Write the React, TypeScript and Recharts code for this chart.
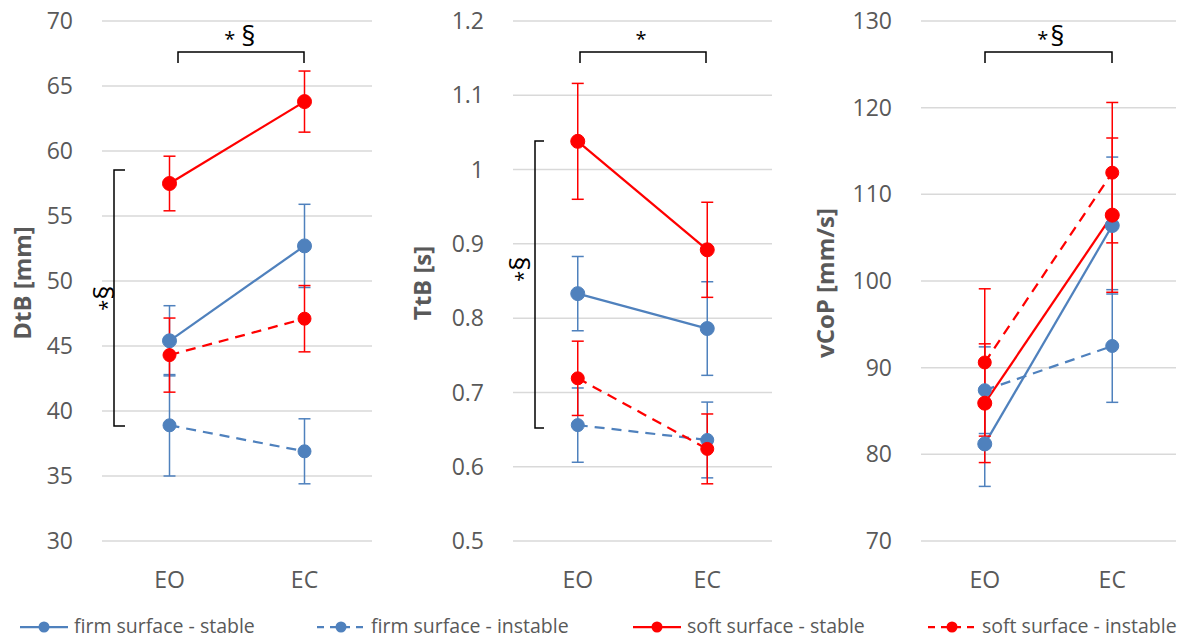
import React from 'react';
import { LineChart, Line, XAxis, YAxis, CartesianGrid, ErrorBar } from 'recharts';

const CATEGORIES = ['EO', 'EC'];

const SERIES_NAMES = [
  'firm surface - stable',
  'firm surface - instable',
  'soft surface - stable',
  'soft surface - instable'
];

// DtB [mm] - means and SD per condition
const DTB_FIRM_STABLE = [45.4, 52.7];
const DTB_FIRM_STABLE_SD = [2.7, 3.2];
const DTB_FIRM_INSTABLE = [38.9, 36.9];
const DTB_FIRM_INSTABLE_SD = [3.9, 2.5];
const DTB_SOFT_STABLE = [57.5, 63.8];
const DTB_SOFT_STABLE_SD = [2.1, 2.35];
const DTB_SOFT_INSTABLE = [44.3, 47.1];
const DTB_SOFT_INSTABLE_SD = [2.85, 2.55];
const DTB_TICKS = [30, 35, 40, 45, 50, 55, 60, 65, 70];

// TtB [s]
const TTB_FIRM_STABLE = [0.833, 0.786];
const TTB_FIRM_STABLE_SD = [0.05, 0.063];
const TTB_FIRM_INSTABLE = [0.656, 0.636];
const TTB_FIRM_INSTABLE_SD = [0.05, 0.051];
const TTB_SOFT_STABLE = [1.038, 0.892];
const TTB_SOFT_STABLE_SD = [0.078, 0.064];
const TTB_SOFT_INSTABLE = [0.719, 0.624];
const TTB_SOFT_INSTABLE_SD = [0.05, 0.047];
const TTB_TICKS = [0.5, 0.6, 0.7, 0.8, 0.9, 1, 1.1, 1.2];

// vCoP [mm/s]
const VCOP_FIRM_STABLE = [81.2, 106.4];
const VCOP_FIRM_STABLE_SD = [4.9, 7.9];
const VCOP_FIRM_INSTABLE = [87.4, 92.5];
const VCOP_FIRM_INSTABLE_SD = [5.0, 6.5];
const VCOP_SOFT_STABLE = [85.9, 107.6];
const VCOP_SOFT_STABLE_SD = [6.85, 8.9];
const VCOP_SOFT_INSTABLE = [90.6, 112.5];
const VCOP_SOFT_INSTABLE_SD = [8.5, 8.1];
const VCOP_TICKS = [70, 80, 90, 100, 110, 120, 130];

const BLUE = '#4f81bd';
const RED = '#ff0000';
const GREY = '#595959';
const FONT = '"Open Sans", sans-serif';

const SERIES = [
  { key: 'fs', color: BLUE, dashed: false },
  { key: 'fi', color: BLUE, dashed: true },
  { key: 'ss', color: RED, dashed: false },
  { key: 'si', color: RED, dashed: true }
];

function buildRows(fs, fsSd, fi, fiSd, ss, ssSd, si, siSd) {
  return CATEGORIES.map((cat, i) => ({
    cat,
    fs: fs[i], fsErr: fsSd[i],
    fi: fi[i], fiErr: fiSd[i],
    ss: ss[i], ssErr: ssSd[i],
    si: si[i], siErr: siSd[i]
  }));
}

const dtbRows = buildRows(DTB_FIRM_STABLE, DTB_FIRM_STABLE_SD, DTB_FIRM_INSTABLE, DTB_FIRM_INSTABLE_SD,
  DTB_SOFT_STABLE, DTB_SOFT_STABLE_SD, DTB_SOFT_INSTABLE, DTB_SOFT_INSTABLE_SD);
const ttbRows = buildRows(TTB_FIRM_STABLE, TTB_FIRM_STABLE_SD, TTB_FIRM_INSTABLE, TTB_FIRM_INSTABLE_SD,
  TTB_SOFT_STABLE, TTB_SOFT_STABLE_SD, TTB_SOFT_INSTABLE, TTB_SOFT_INSTABLE_SD);
const vcopRows = buildRows(VCOP_FIRM_STABLE, VCOP_FIRM_STABLE_SD, VCOP_FIRM_INSTABLE, VCOP_FIRM_INSTABLE_SD,
  VCOP_SOFT_STABLE, VCOP_SOFT_STABLE_SD, VCOP_SOFT_INSTABLE, VCOP_SOFT_INSTABLE_SD);

interface PanelProps {
  left: number;
  axisWidth: number;
  width: number;
  domain: [number, number];
  ticks: number[];
  rows: any[];
}

function Panel({ left, axisWidth, width, domain, ticks, rows }: PanelProps) {
  const plotW = width - axisWidth;
  const pad = plotW / 4;
  return (
    <div style={{ position: 'absolute', left, top: 0 }}>
      <LineChart width={width} height={601} data={rows} margin={{ top: 21, right: 0, bottom: 0, left: 0 }}>
        <CartesianGrid vertical={false} stroke="#d9d9d9" strokeWidth={1.5} />
        <XAxis
          dataKey="cat"
          height={60}
          axisLine={false}
          tickLine={false}
          tickMargin={25}
          interval={0}
          padding={{ left: pad, right: pad }}
          tick={{ fill: GREY, fontSize: 23, fontFamily: FONT }}
        />
        <YAxis
          type="number"
          domain={domain}
          ticks={ticks}
          interval={0}
          allowDataOverflow
          width={axisWidth}
          axisLine={false}
          tickLine={false}
          tickMargin={23}
          tick={{ fill: GREY, fontSize: 23, fontFamily: FONT }}
        />
        {SERIES.map(s => (
          <Line
            key={s.key}
            dataKey={s.key}
            stroke={s.color}
            strokeWidth={2.25}
            strokeDasharray={s.dashed ? '10 7' : undefined}
            dot={{ r: s.dashed ? 6.5 : 7, fill: s.color, stroke: s.color, strokeWidth: 1, strokeDasharray: '' }}
            activeDot={false}
            isAnimationActive={false}
          >
            <ErrorBar dataKey={s.key + 'Err'} direction="y" width={6} stroke={s.color} strokeWidth={1.5} />
          </Line>
        ))}
      </LineChart>
    </div>
  );
}

// significance brackets, axis titles and legend
function Overlay() {
  const titleStyle = { fontFamily: FONT, fontSize: 24, fontWeight: 700, fill: GREY } as const;
  const mark = { fontFamily: FONT, fill: '#000' } as const;
  const legendX = [20, 317, 633, 928];
  return (
    <svg width={1195} height={639} style={{ position: 'absolute', left: 0, top: 0, pointerEvents: 'none' }}>
      <text transform="translate(31,283) rotate(-90)" textAnchor="middle" style={titleStyle}>DtB [mm]</text>
      <text transform="translate(431,283) rotate(-90)" textAnchor="middle" style={titleStyle}>TtB [s]</text>
      <text transform="translate(834,283) rotate(-90)" textAnchor="middle" style={titleStyle}>vCoP [mm/s]</text>

      <g fill="none" stroke="#000" strokeWidth={1.5}>
        <path d="M178,63 V52 H304 V63" />
        <path d="M580,63 V52 H706 V63" />
        <path d="M985,63 V52 H1112 V63" />
        <path d="M125,170 H114 V426 H125" />
        <path d="M544,141 H535 V428 H544" />
      </g>

      <text x={240} y={46} textAnchor="middle" style={mark}>
        <tspan fontSize={20}>*</tspan><tspan fontSize={28} dx={6}>§</tspan>
      </text>
      <text x={641} y={46} textAnchor="middle" style={mark} fontSize={20}>*</text>
      <text x={1051} y={46} textAnchor="middle" style={mark}>
        <tspan fontSize={20}>*</tspan><tspan fontSize={28} dx={2}>§</tspan>
      </text>
      <text transform="translate(114,298) rotate(-90)" textAnchor="middle" style={mark}>
        <tspan fontSize={20}>*</tspan><tspan fontSize={28}>§</tspan>
      </text>
      <text transform="translate(530,269) rotate(-90)" textAnchor="middle" style={mark}>
        <tspan fontSize={20}>*</tspan><tspan fontSize={28}>§</tspan>
      </text>

      {SERIES.map((s, i) => {
        const x = legendX[i];
        return (
          <g key={s.key}>
            <line x1={x} x2={x + 48} y1={627} y2={627} stroke={s.color} strokeWidth={2.25}
              strokeDasharray={s.dashed ? '7 6' : undefined} />
            <circle cx={x + 24} cy={627} r={5.5} fill={s.color} />
            <text x={x + 54} y={633} style={{ fontFamily: FONT, fontSize: 19.5, fill: GREY }}>{SERIES_NAMES[i]}</text>
          </g>
        );
      })}
    </svg>
  );
}

export default function App() {
  return (
    <div style={{ position: 'absolute', left: 0, top: 0, width: 1195, height: 639, background: '#fff', fontFamily: FONT }}>
      <Panel left={0} axisWidth={102} width={372} domain={[30, 70]} ticks={DTB_TICKS} rows={dtbRows} />
      <Panel left={400} axisWidth={113} width={372} domain={[0.5, 1.2]} ticks={TTB_TICKS} rows={ttbRows} />
      <Panel left={800} axisWidth={121} width={376} domain={[70, 130]} ticks={VCOP_TICKS} rows={vcopRows} />
      <Overlay />
    </div>
  );
}
